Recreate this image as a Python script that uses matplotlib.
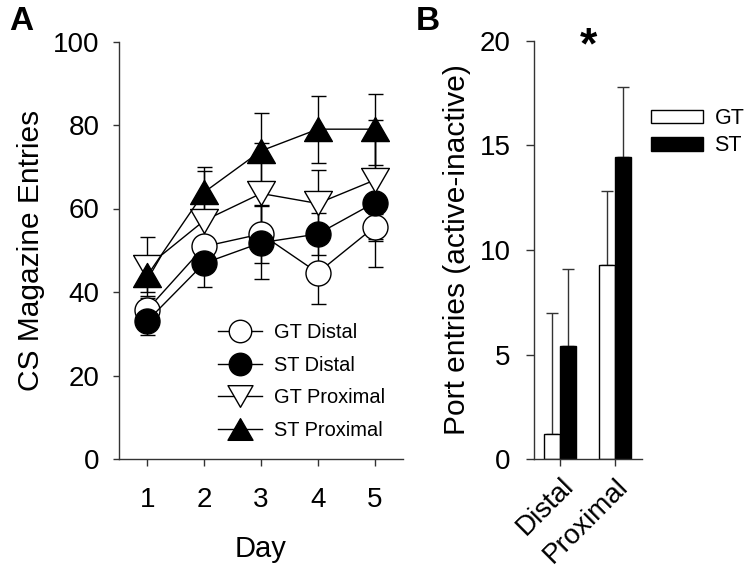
import matplotlib
matplotlib.use("Agg")
import matplotlib.pyplot as plt
import numpy as np
from matplotlib.path import Path

plt.rcParams['font.family'] = ['Liberation Sans', 'DejaVu Sans']

# ---- Panel A data ----
days = [1, 2, 3, 4, 5]
gt_distal = [35.8, 50.9, 53.9, 44.6, 55.6]
gt_distal_err = [2.7, 2.0, 7.0, 7.5, 3.0]
st_distal = [33.1, 46.9, 51.8, 53.9, 61.4]
st_distal_err = [3.5, 5.8, 8.7, 5.0, 15.5]
gt_prox = [46.1, 57.1, 63.6, 61.2, 66.8]
gt_prox_err = [7.0, 12.0, 12.2, 8.0, 14.5]
st_prox = [44.0, 63.9, 73.8, 79.0, 79.0]
st_prox_err = [4.0, 6.0, 9.1, 8.0, 8.5]

# ---- Panel B data ----
groups = ['Distal', 'Proximal']
gt_bar = [1.2, 9.3]
gt_bar_err = [5.8, 3.5]
st_bar = [5.4, 14.45]
st_bar_err = [3.7, 3.35]

fig = plt.figure(figsize=(7.55, 5.77), dpi=100)

axA = fig.add_axes([119/755, 1-459/577, (403-119)/755, (459-41.5)/577])
axB = fig.add_axes([534/755, 1-459.3/577, (641.7-534)/755, (459.3-40.7)/577])

s = 0.866
tri_up = Path([(-1, -s), (1, -s), (0, s), (-1, -s)], [1, 2, 2, 79])
tri_dn = Path([(-1, s), (1, s), (0, -s), (-1, s)], [1, 2, 2, 79])

series = [
    (gt_distal, gt_distal_err, 'o', 'white', 'GT Distal', 18),
    (st_distal, st_distal_err, 'o', 'black', 'ST Distal', 18),
    (gt_prox, gt_prox_err, tri_dn, 'white', 'GT Proximal', 20),
    (st_prox, st_prox_err, tri_up, 'black', 'ST Proximal', 20),
]
for vals, err, mk, fc, lab, ms in series:
    axA.errorbar(days, vals, yerr=err, fmt='none', ecolor='black',
                 elinewidth=1.0, capsize=5.4, capthick=1.0, zorder=1)
for vals, err, mk, fc, lab, ms in series:
    axA.plot(days, vals, color='black', lw=1.0, marker=mk, ms=ms,
             mfc=fc, mec='black', mew=1.0, label=lab, zorder=3)

axA.set_xlim(0.5, 5.5)
axA.set_ylim(0, 100)
axA.set_xticks(days)
axA.set_yticks([0, 20, 40, 60, 80, 100])
for sp in ['top', 'right']:
    axA.spines[sp].set_visible(False)
for sp in ['left', 'bottom']:
    axA.spines[sp].set_linewidth(1.0)
    axA.spines[sp].set_color('#333333')
axA.tick_params(axis='y', direction='out', length=4, width=1, labelsize=20, pad=10, color='#333333')
axA.tick_params(axis='x', direction='out', length=5, width=1, labelsize=20, pad=15, color='#333333')
axA.set_xlabel('Day', fontsize=21, labelpad=16)
axA.set_ylabel('CS Magazine Entries', fontsize=21.5, labelpad=6)

legA = axA.legend(loc='upper left', bbox_to_anchor=(218/755, 1-323/577),
                  bbox_transform=fig.transFigure, frameon=False, fontsize=14.4,
                  handlelength=2.2, handletextpad=0.6, labelspacing=0.68,
                  borderpad=0, borderaxespad=0, markerscale=0.9)

# ---- Panel B ----
x = np.arange(len(groups))
w = 0.294
axB.bar(x - w/2, gt_bar, width=w, color='white', edgecolor='black', lw=1.0, label='GT', zorder=2)
axB.bar(x + w/2, st_bar, width=w, color='black', edgecolor='black', lw=1.0, label='ST', zorder=2)
axB.errorbar(x - w/2, gt_bar, yerr=[np.zeros(2), gt_bar_err], fmt='none', ecolor='#333333',
             elinewidth=1.0, capsize=4.3, capthick=1.0, zorder=1)
axB.errorbar(x + w/2, st_bar, yerr=[np.zeros(2), st_bar_err], fmt='none', ecolor='#333333',
             elinewidth=1.0, capsize=4.3, capthick=1.0, zorder=1)
axB.set_xlim(-0.483, 1.496)
axB.set_ylim(0, 20)
axB.set_yticks([0, 5, 10, 15, 20])
axB.set_xticks(x)
axB.set_xticklabels(groups, rotation=45, ha='right', va='top', rotation_mode='anchor')
for sp in ['top', 'right']:
    axB.spines[sp].set_visible(False)
for sp in ['left', 'bottom']:
    axB.spines[sp].set_linewidth(1.0)
    axB.spines[sp].set_color('#333333')
axB.tick_params(axis='y', direction='out', length=6, width=1, labelsize=20, pad=11, color='#333333')
axB.tick_params(axis='x', direction='out', length=5, width=1, labelsize=20, pad=5, color='#333333')
axB.set_ylabel('Port entries (active-inactive)', fontsize=21.5, labelpad=6)
axB.text(588/755, 1-47/577, '*', transform=fig.transFigure, fontsize=32,
         fontweight='bold', ha='center', va='center')

legB = axB.legend(loc='upper left', bbox_to_anchor=(651/755, 1-108/577),
                  bbox_transform=fig.transFigure, frameon=False, fontsize=15.5,
                  handlelength=2.4, handleheight=0.6, handletextpad=0.55,
                  labelspacing=0.3, borderpad=0, borderaxespad=0)

fig.text(21/755, 1-22/577, 'A', fontsize=24, fontweight='bold', ha='center', va='center')
fig.text(428/755, 1-22/577, 'B', fontsize=24, fontweight='bold', ha='center', va='center')

fig.savefig('out.png', dpi=100)
